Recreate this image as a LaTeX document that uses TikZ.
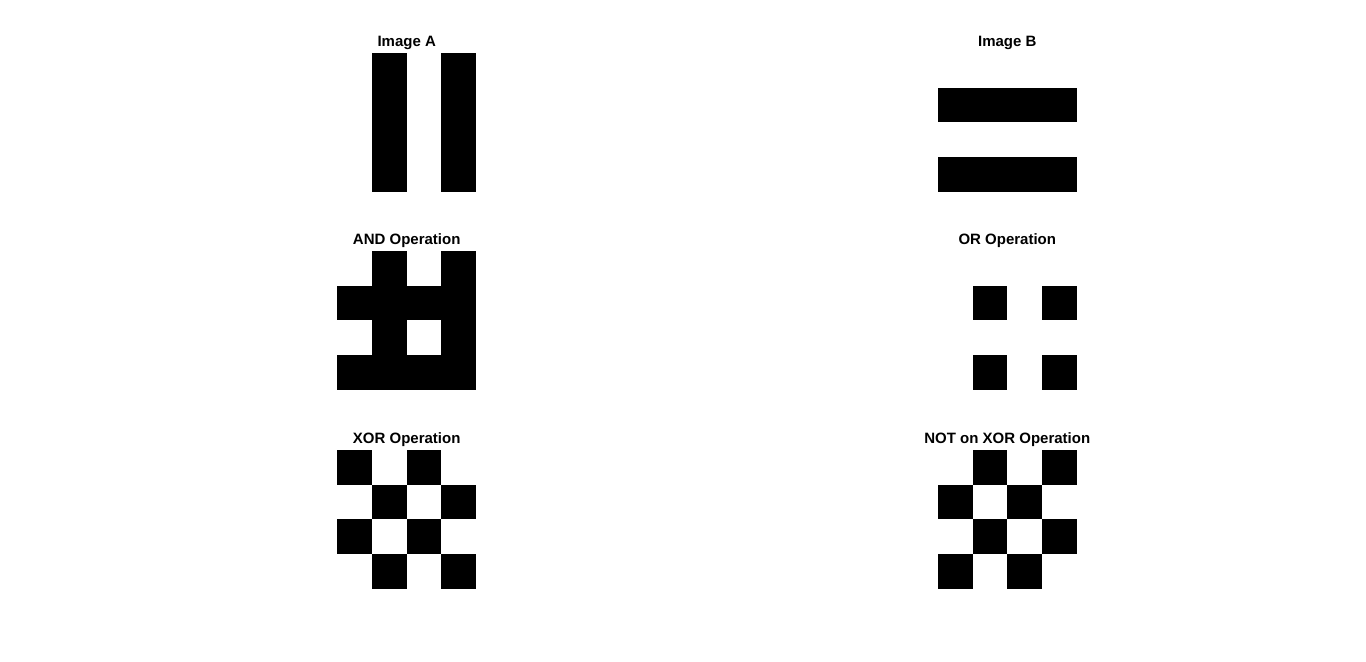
\documentclass[tikz,border=0pt]{standalone}
\usepackage{fontspec}
\setsansfont{Liberation Sans}
\usetikzlibrary{positioning}

\newcommand{\cellsz}{34.65}
% 4x4 binary image: #1 left, #2 top, #3 black cells as row/col
\newcommand{\drawbits}[3]{%
  \foreach \r/\c in {#3} {
    \fill[black] ({#1+(\c-1)*\cellsz},{#2+(\r-1)*\cellsz}) rectangle ++(\cellsz,\cellsz);
  }}

\begin{document}
\begin{tikzpicture}[
    x=0.75pt, y=-0.75pt,
    ttl/.style={font=\sffamily\bfseries\fontsize{11.25}{13}\selectfont,
                anchor=base, inner sep=0pt},
]
\useasboundingbox (0,0) rectangle (1366,661);

% titles
\node[ttl] (titleA)   at (406.7,46)   {Image A};
\node[ttl] (titleB)   at (1007.3,46)  {Image B};
\node[ttl] (titleAnd) at (406.7,244)  {AND Operation};
\node[ttl] (titleOr)  at (1007.3,244) {OR Operation};
\node[ttl] (titleXor) at (406.7,443)  {XOR Operation};
\node[ttl] (titleNot) at (1007.3,443) {NOT on XOR Operation};

% images
\drawbits{337.3}{53}{1/2,2/2,3/2,4/2,1/4,2/4,3/4,4/4}
\drawbits{938}{53}{2/1,2/2,2/3,2/4,4/1,4/2,4/3,4/4}
\drawbits{337.3}{251}{1/2,1/4,2/1,2/2,2/3,2/4,3/2,3/4,4/1,4/2,4/3,4/4}
\drawbits{938}{251}{2/2,2/4,4/2,4/4}
\drawbits{337.3}{450}{1/1,1/3,2/2,2/4,3/1,3/3,4/2,4/4}
\drawbits{938}{450}{1/2,1/4,2/1,2/3,3/2,3/4,4/1,4/3}
\end{tikzpicture}
\end{document}
